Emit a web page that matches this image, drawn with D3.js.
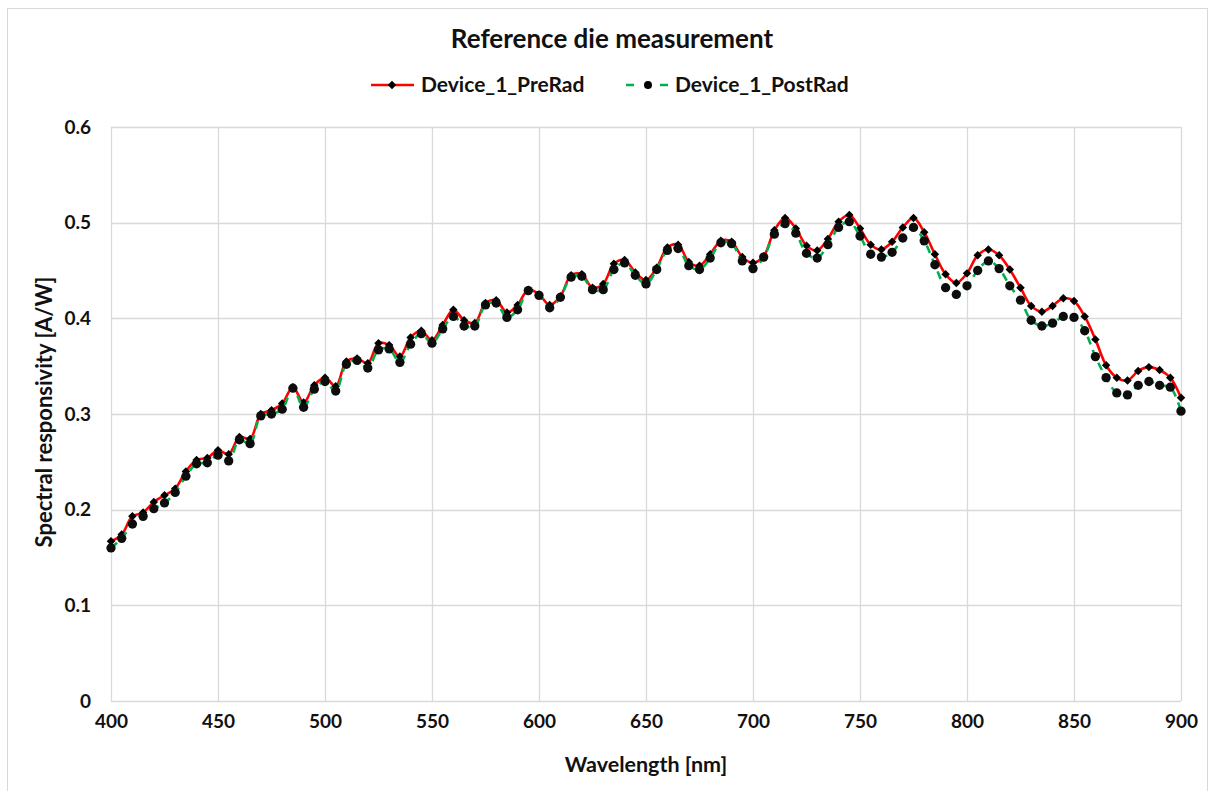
<!DOCTYPE html>
<html><head><meta charset="utf-8">
<script src="https://cdn.jsdelivr.net/npm/d3@7"></script>
<style>html,body{margin:0;padding:0;background:#fff;}svg{display:block;}</style>
</head><body>
<script>
const wavelengths = d3.range(400, 901, 5);
const preRad = [0.167,0.174,0.193,0.197,0.208,0.215,0.222,0.240,0.252,0.254,
0.262,0.258,0.276,0.274,0.300,0.304,0.311,0.328,0.312,0.330,
0.338,0.329,0.355,0.358,0.353,0.374,0.372,0.360,0.380,0.387,
0.377,0.393,0.409,0.398,0.395,0.416,0.419,0.406,0.414,0.430,
0.425,0.414,0.423,0.445,0.446,0.432,0.436,0.457,0.461,0.448,
0.440,0.453,0.474,0.477,0.459,0.455,0.467,0.481,0.480,0.464,
0.458,0.465,0.492,0.505,0.494,0.476,0.471,0.483,0.501,0.508,
0.494,0.477,0.472,0.480,0.495,0.505,0.490,0.467,0.446,0.437,
0.447,0.466,0.472,0.466,0.451,0.432,0.413,0.407,0.413,0.421,
0.418,0.402,0.378,0.351,0.338,0.335,0.345,0.349,0.346,0.338,0.317];
const postRad = [0.160,0.170,0.185,0.193,0.201,0.207,0.218,0.235,0.248,0.249,
0.257,0.251,0.273,0.269,0.298,0.300,0.305,0.327,0.307,0.326,
0.334,0.324,0.352,0.356,0.348,0.367,0.368,0.354,0.373,0.384,
0.374,0.389,0.402,0.392,0.392,0.414,0.416,0.401,0.409,0.429,
0.424,0.411,0.422,0.443,0.444,0.430,0.430,0.451,0.458,0.445,
0.436,0.451,0.471,0.473,0.455,0.451,0.463,0.479,0.478,0.460,
0.452,0.464,0.488,0.499,0.489,0.468,0.463,0.477,0.495,0.501,
0.486,0.467,0.464,0.469,0.484,0.495,0.481,0.456,0.432,0.425,
0.434,0.450,0.460,0.452,0.434,0.419,0.398,0.392,0.395,0.402,
0.401,0.387,0.360,0.338,0.322,0.320,0.330,0.334,0.330,0.328,0.303];
const xTicks = [400,450,500,550,600,650,700,750,800,850,900];
const yTicks = [0,0.1,0.2,0.3,0.4,0.5,0.6];
const seriesNames = ["Device_1_PreRad","Device_1_PostRad"];
const titleText = "Reference die measurement";
const xTitle = "Wavelength [nm]";
const yTitle = "Spectral responsivity [A/W]";

(function () {
const W = 1212, H = 791;
const FONT = "Lato, 'Open Sans', sans-serif";
const INK = "#111";
const svg = d3.select("body").append("svg").attr("width", W).attr("height", H)
  .style("font-family", FONT);

svg.append("rect").attr("x", 7.5).attr("y", 8.5).attr("width", 1200).attr("height", 800)
  .attr("fill", "#fff").attr("stroke", "#d9d9d9").attr("stroke-width", 1);

const pL = 111, pR = 1181, pT = 127, pB = 701;
const x = d3.scaleLinear().domain([400, 900]).range([pL, pR]);
const y = d3.scaleLinear().domain([0, 0.6]).range([pB, pT]);

const grid = svg.append("g");
grid.selectAll("line.v").data(xTicks).join("line")
  .attr("x1", d => Math.round(x(d)) + 0.5).attr("x2", d => Math.round(x(d)) + 0.5)
  .attr("y1", pT).attr("y2", pB).attr("stroke", "#d9d9d9").attr("stroke-width", 1.3);
grid.selectAll("line.h").data(yTicks).join("line")
  .attr("y1", d => Math.round(y(d)) + 0.5).attr("y2", d => Math.round(y(d)) + 0.5)
  .attr("x1", pL).attr("x2", pR).attr("stroke", "#d9d9d9").attr("stroke-width", 1.3);

const xAxis = svg.append("g").attr("transform", `translate(0,${pB})`)
  .call(d3.axisBottom(x).tickValues(xTicks).tickSize(0).tickPadding(14).tickFormat(d3.format("d")));
const yAxis = svg.append("g").attr("transform", `translate(${pL},0)`)
  .call(d3.axisLeft(y).tickValues(yTicks).tickSize(0).tickPadding(20).tickFormat(d => d === 0 ? "0" : d3.format(".1f")(d)));
[xAxis, yAxis].forEach(a => {
  a.select(".domain").remove();
  a.selectAll("text").attr("font-family", FONT).attr("font-size", 19).attr("font-weight", 700).attr("fill", INK);
});

svg.append("text").attr("x", 646).attr("y", 772).attr("text-anchor", "middle")
  .attr("font-size", 21.5).attr("font-weight", 700).attr("fill", INK).text(xTitle);
svg.append("text").attr("transform", `translate(52,${(pT + pB) / 2 - 2}) rotate(-90)`)
  .attr("text-anchor", "middle").attr("font-size", 22).attr("font-weight", 700).attr("fill", INK).text(yTitle);

svg.append("text").attr("x", 612).attr("y", 48).attr("text-anchor", "middle")
  .attr("font-size", 26).attr("font-weight", 700).attr("fill", INK).text(titleText);

const line = d3.line().x(d => x(d[0])).y(d => y(d[1])).curve(d3.curveCatmullRom.alpha(0.5));
const preData = wavelengths.map((w, i) => [w, preRad[i]]);
const postData = wavelengths.map((w, i) => [w, postRad[i]]);

const diamond = d3.symbol().type(d3.symbolSquare).size(36);
const circle = d3.symbol().type(d3.symbolCircle).size(68);

svg.append("path").datum(preData).attr("d", line).attr("fill", "none")
  .attr("stroke", "#ff0000").attr("stroke-width", 2.6).attr("stroke-linejoin", "round");
svg.append("g").selectAll("path").data(preData).join("path")
  .attr("transform", d => `translate(${x(d[0])},${y(d[1])}) rotate(45)`).attr("d", diamond).attr("fill", "#000");

svg.append("path").datum(postData).attr("d", line).attr("fill", "none")
  .attr("stroke", "#00b050").attr("stroke-width", 2.6).attr("stroke-dasharray", "8,6");
svg.append("g").selectAll("path").data(postData).join("path")
  .attr("transform", d => `translate(${x(d[0])},${y(d[1])})`).attr("d", circle).attr("fill", "#0d0d0d");

const lg = svg.append("g");
const ly = 85;
lg.append("line").attr("x1", 371).attr("x2", 414).attr("y1", ly).attr("y2", ly)
  .attr("stroke", "#ff0000").attr("stroke-width", 2.6);
lg.append("path").attr("transform", `translate(392,${ly}) rotate(45)`).attr("d", diamond).attr("fill", "#000");
lg.append("text").attr("x", 421).attr("y", ly).attr("dy", "0.35em").attr("font-size", 21)
  .attr("font-weight", 700).attr("fill", INK).text(seriesNames[0]);
lg.append("line").attr("x1", 626).attr("x2", 670).attr("y1", ly).attr("y2", ly)
  .attr("stroke", "#00b050").attr("stroke-width", 2.6).attr("stroke-dasharray", "8,26");
lg.append("path").attr("transform", `translate(648,${ly})`).attr("d", d3.symbol().type(d3.symbolCircle).size(50)).attr("fill", "#000");
lg.append("text").attr("x", 675).attr("y", ly).attr("dy", "0.35em").attr("font-size", 21)
  .attr("font-weight", 700).attr("fill", INK).text(seriesNames[1]);
})();
</script>
</body></html>
